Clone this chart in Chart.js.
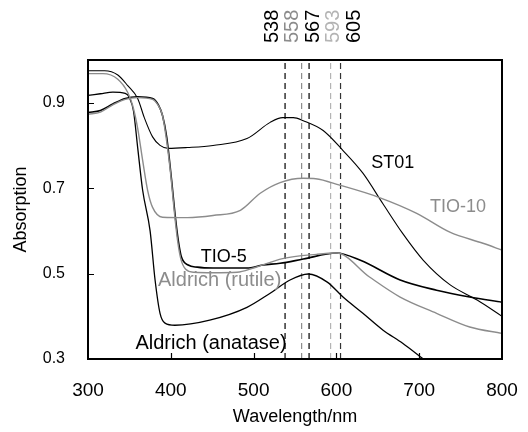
<!DOCTYPE html>
<html><head><meta charset="utf-8">
<script src="https://cdn.jsdelivr.net/npm/chart.js@4"></script>
<style>html,body{margin:0;padding:0;background:#fff}#wrap{width:528px;height:432px}</style>
</head><body><div id="wrap"><canvas id="c" width="528" height="432"></canvas></div>
<script>
// ---- data ----
const st01Wl  = [300,320,336,348,360,368,378,387,397,420,451,492,520,535,548,560,584,608,632,656,680,705,737,770,800];
const st01Abs = [0.975,0.975,0.965,0.94,0.91,0.865,0.82,0.80,0.793,0.795,0.80,0.816,0.854,0.865,0.865,0.858,0.835,0.788,0.735,0.664,0.594,0.531,0.474,0.438,0.400];

const tio10Wl  = [300,318,336,348,354,360,366,372,378,390,420,451,484,508,532,560,575,604,652,697,737,777,800];
const tio10Abs = [0.968,0.968,0.955,0.924,0.893,0.84,0.765,0.695,0.655,0.632,0.631,0.636,0.648,0.688,0.713,0.723,0.722,0.707,0.678,0.641,0.597,0.571,0.555];

const tio5Wl  = [300,315,330,345,360,378,385,390,395,401,405,409,413,421,432,451,492,511,532,560,600,629,677,721,761,800];
const tio5Abs = [0.877,0.882,0.897,0.91,0.914,0.91,0.895,0.87,0.82,0.718,0.641,0.578,0.538,0.52,0.515,0.513,0.513,0.52,0.524,0.534,0.548,0.531,0.485,0.461,0.445,0.433];

const rutileWl  = [300,315,330,345,360,378,385,390,395,400,404,408,412,418,428,451,480,500,535,576,600,640,677,721,761,800];
const rutileAbs = [0.873,0.878,0.895,0.908,0.912,0.908,0.893,0.87,0.81,0.73,0.65,0.58,0.535,0.51,0.503,0.502,0.503,0.513,0.535,0.545,0.548,0.492,0.445,0.407,0.375,0.36];

const anataseWl  = [300,315,330,345,350,355,360,366,375,381,387,393,405,447,492,520,544,566,589,608,632,656,680,705];
const anataseAbs = [0.917,0.921,0.925,0.922,0.912,0.88,0.795,0.695,0.60,0.485,0.407,0.384,0.379,0.391,0.421,0.454,0.485,0.499,0.48,0.445,0.407,0.368,0.337,0.300];

const peakWl     = [538,558,567,593,605];
const peakLabels = ['538','558','567','593','605'];
const xTicks = [300,400,500,600,700,800];
const yTicks = [0.3,0.5,0.7,0.9];

// ---- styling / annotation config ----
const FONT = '"Liberation Sans", Arial, sans-serif';
const BLACK = '#000000', GRAY = '#8c8c8c', LIGHT = '#b4b4b4';
const peakColors = [BLACK, GRAY, BLACK, LIGHT, '#333333'];
const peakTextColors = [BLACK, GRAY, BLACK, LIGHT, BLACK];
const seriesNotes = [
  {text:'ST01', x:668, y:0.758, color:BLACK, size:18},
  {text:'TIO-10', x:747, y:0.655, color:GRAY, size:18},
  {text:'TIO-5', x:464, y:0.538, color:BLACK, size:18},
  {text:'Aldrich (rutile)', x:459, y:0.484, color:GRAY, size:20},
  {text:'Aldrich (anatase)', x:448.6, y:0.337, color:BLACK, size:20}
];

function pts(wl, a){ return wl.map((w,i)=>({x:w, y:a[i]})); }
function curve(wl, a, color, width){
  return {data:pts(wl,a), borderColor:color, borderWidth:width, pointRadius:0,
          tension:0.4, cubicInterpolationMode:'monotone', fill:false};
}
const datasets = [
  curve(tio10Wl, tio10Abs, GRAY, 1.4),
  curve(rutileWl, rutileAbs, GRAY, 1.4),
  curve(st01Wl, st01Abs, BLACK, 1.1),
  curve(tio5Wl, tio5Abs, BLACK, 1.6),
  curve(anataseWl, anataseAbs, BLACK, 1.3)
];
peakWl.forEach((p,i)=>{
  datasets.push({data:[{x:p,y:0.3},{x:p,y:1.0}], borderColor:peakColors[i], borderWidth:1.2,
    borderDash:[6,4], pointRadius:0, tension:0});
});

const decor = {
  id:'decor',
  afterDraw(chart){
    const {ctx, chartArea:ca, scales:{x, y}} = chart;
    ctx.save();
    // inner ticks
    ctx.strokeStyle = BLACK; ctx.lineWidth = 1.2;
    ctx.beginPath();
    xTicks.forEach(v=>{ if(v>300 && v<800){ const px=Math.round(x.getPixelForValue(v))+0.5; ctx.moveTo(px, ca.bottom); ctx.lineTo(px, ca.bottom-6);} });
    yTicks.forEach(v=>{ if(v>0.3){ const py=Math.round(y.getPixelForValue(v))+0.5; ctx.moveTo(ca.left, py); ctx.lineTo(ca.left+6, py);} });
    ctx.stroke();
    // frame
    ctx.lineWidth = 2;
    ctx.strokeRect(ca.left, ca.top, ca.right-ca.left, ca.bottom-ca.top);
    // series annotations
    ctx.textAlign = 'center'; ctx.textBaseline = 'middle';
    seriesNotes.forEach(n=>{ ctx.font = n.size + 'px ' + FONT; ctx.fillStyle = n.color; ctx.fillText(n.text, x.getPixelForValue(n.x), y.getPixelForValue(n.y)); });
    // peak labels, rotated, evenly spaced around the mean line position
    const pxs = peakWl.map(p=>x.getPixelForValue(p));
    const mean = pxs.reduce((s,v)=>s+v,0)/pxs.length;
    const gap = 20.5;
    ctx.font = '20px ' + FONT;
    ctx.textAlign = 'left'; ctx.textBaseline = 'middle';
    peakLabels.forEach((t,i)=>{
      const cx = mean + (i-(peakLabels.length-1)/2)*gap;
      ctx.save(); ctx.translate(cx, ca.top-17); ctx.rotate(-Math.PI/2);
      ctx.fillStyle = peakTextColors[i]; ctx.fillText(t, 0, 0); ctx.restore();
    });
    ctx.restore();
  }
};

new Chart(document.getElementById('c'), {
  type:'line',
  data:{datasets},
  options:{
    responsive:false, animation:false, devicePixelRatio:1,
    layout:{padding:{left:0, top:60, right:26, bottom:0}},
    plugins:{legend:{display:false}, tooltip:{enabled:false}},
    scales:{
      x:{type:'linear', min:300, max:800,
         afterBuildTicks:s=>{ s.ticks = xTicks.map(v=>({value:v})); },
         afterFit:s=>{ s.height = 73; s.paddingLeft = 0; s.paddingRight = 0; },
         grid:{display:false, drawTicks:false}, border:{display:false},
         ticks:{color:BLACK, font:{family:FONT, size:19}, padding:20, maxRotation:0},
         title:{display:true, text:'Wavelength/nm', color:BLACK, font:{family:FONT, size:18}, padding:{top:0, bottom:4}}},
      y:{type:'linear', min:0.3, max:1.0,
         afterBuildTicks:s=>{ s.ticks = yTicks.map(v=>({value:v})); },
         afterFit:s=>{ s.width = 88; s.paddingTop = 0; s.paddingBottom = 0; },
         grid:{display:false, drawTicks:false}, border:{display:false},
         ticks:{color:BLACK, font:{family:FONT, size:16}, padding:23, callback:v=>v.toFixed(1)},
         title:{display:true, text:'Absorption', color:BLACK, font:{family:FONT, size:18}, padding:{top:10, bottom:0}}}
    }
  },
  plugins:[decor]
});
</script></body></html>
